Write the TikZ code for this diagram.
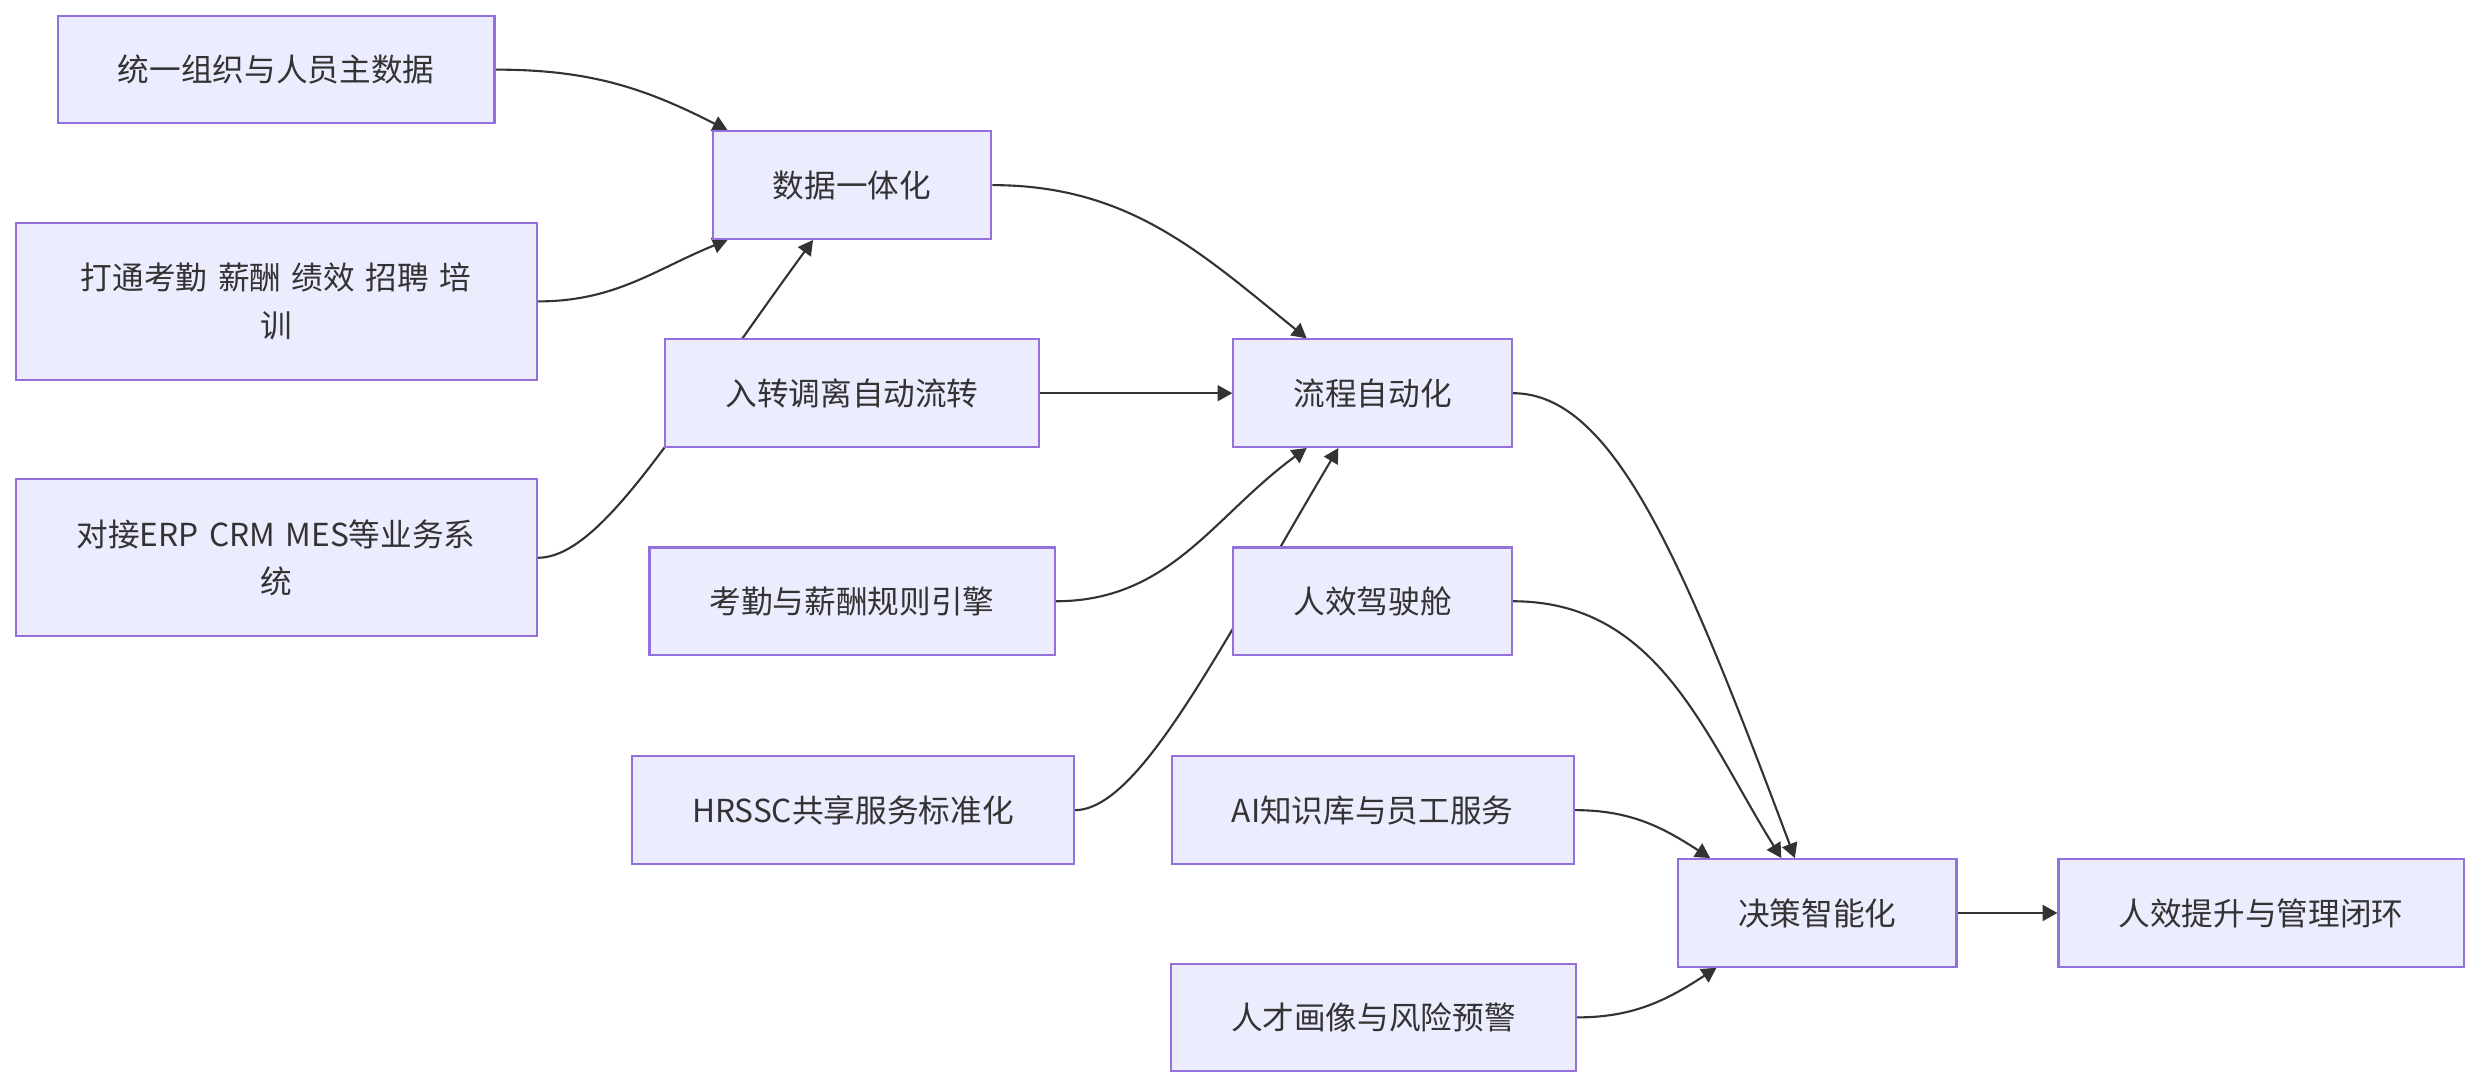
\documentclass[tikz,border=0pt]{standalone}
\usepackage{fontspec}
\setmainfont{Noto Sans CJK SC}
\usetikzlibrary{arrows.meta,backgrounds,calc}
\definecolor{nodefill}{HTML}{ECECFF}
\definecolor{nodeline}{HTML}{9370DB}
\definecolor{inkgray}{HTML}{333333}
\begin{document}
\begin{tikzpicture}[
  x=0.75pt, y=0.75pt,
  font=\fontsize{15}{22.5}\selectfont,
  box/.style={draw=nodeline, fill=nodefill, line width=1pt, text=inkgray,
              minimum height=51pt, inner xsep=28.5pt, align=center},
  wide/.style={box, minimum height=74.25pt, inner xsep=21pt, text width=205pt},
  flow/.style={-{Triangle[length=7pt,width=7.5pt]}, draw=inkgray, line width=1pt}
]
  \useasboundingbox (0,0) rectangle (1568,-688);
  % sources
  \node[box] (masterdata) at (174.5,-44) {统一组织与人员主数据};
  \node[wide] (integrate) at (174.5,-190.5) {打通考勤 薪酬 绩效 招聘 培\\训};
  \node[wide] (erp) at (174.5,-352.5) {对接ERP CRM MES等业务系\\统};
  % second column
  \node[box] (dataunify) at (538.5,-117) {数据一体化};
  \node[box] (onboard) at (538.5,-248.5) {入转调离自动流转};
  \node[box] (payrule) at (538.5,-380) {考勤与薪酬规则引擎};
  \node[box] (hrssc) at (539,-512) {HRSSC共享服务标准化};
  % third column
  \node[box] (flowauto) at (867.5,-248.5) {流程自动化};
  \node[box] (cockpit) at (867.5,-380) {人效驾驶舱};
  \node[box] (aikb) at (867.5,-512) {AI知识库与员工服务};
  \node[box] (talent) at (868,-643) {人才画像与风险预警};
  % result
  \node[box] (decision) at (1148.5,-577) {决策智能化};
  \node[box] (outcome) at (1429,-577) {人效提升与管理闭环};
  \begin{scope}[on background layer]
    \draw[flow] (masterdata.east) to[out=0,in=153] ($(dataunify.north west)+(10,0)$);
    \draw[flow] (integrate.east) to[out=0,in=202] ($(dataunify.south west)+(10,0)$);
    \draw[flow] (erp.east) .. controls (380,-352.5) and (426,-272) .. ($(dataunify.south west)+(64,0)$);
    \draw[flow] (dataunify.east) to[out=0,in=141] ($(flowauto.north west)+(47,0)$);
    \draw[flow] (onboard) -- (flowauto);
    \draw[flow] (payrule.east) to[out=0,in=216] ($(flowauto.south west)+(47,0)$);
    \draw[flow] (hrssc.east) .. controls (720,-512) and (770,-411) .. ($(flowauto.south west)+(67,0)$);
    \draw[flow] (flowauto.east) .. controls (1020,-248.5) and (1064,-355) .. ($(decision.north west)+(74.5,0)$);
    \draw[flow] (cockpit.east) to[out=0,in=122] ($(decision.north west)+(66,0)$);
    \draw[flow] (aikb.east) to[out=0,in=147] ($(decision.north west)+(21,0)$);
    \draw[flow] (talent.east) to[out=0,in=213] ($(decision.south west)+(25,0)$);
    \draw[flow] (decision) -- (outcome);
  \end{scope}
\end{tikzpicture}
\end{document}
